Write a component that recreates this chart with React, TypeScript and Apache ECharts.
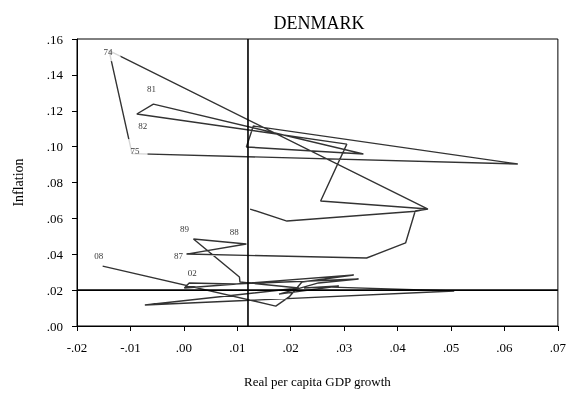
import React, { useEffect, useRef } from 'react';
import * as echarts from 'echarts';

// Path of (real per capita GDP growth, inflation) points, in drawing order
const growth = [
  0.0124, 0.0193, 0.0434, 0.0456, -0.0140, -0.0097, 0.0625, 0.0130, 0.0117, 0.0336,
  -0.0057, -0.0088, 0.0305, 0.0256, 0.0457, 0.0433, 0.0415, 0.0342, 0.0005, 0.0117,
  0.0018, 0.0104, 0.0105, 0.0215, -0.0073, 0.0506, 0.0262, 0.0225, 0.0290, 0.0178,
  0.0252, 0.0327, 0.0094, 0.0010, 0.0001, 0.0318, 0.0221, 0.0197, 0.0172, -0.0152,
];
const inflation = [
  0.0652, 0.0585, 0.0640, 0.0653, 0.1535, 0.0961, 0.0903, 0.1115, 0.0998, 0.0959,
  0.1237, 0.1182, 0.1014, 0.0697, 0.0652, 0.0641, 0.0463, 0.0379, 0.0401, 0.0457,
  0.0485, 0.0273, 0.0245, 0.0212, 0.0117, 0.0195, 0.0218, 0.0212, 0.0223, 0.0178,
  0.0240, 0.0262, 0.0234, 0.0240, 0.0212, 0.0284, 0.0245, 0.0162, 0.0111, 0.0334,
];
const pointLabels = [
  '', '', '', '', '74', '75', '', '', '', '',
  '81', '82', '', '', '', '', '', '', '87', '88',
  '89', '', '', '', '', '', '', '', '', '',
  '', '', '', '02', '', '', '', '', '', '08',
];
// label placement relative to its point (pixels)
const labelOffsets: Record<string, [number, number]> = {
  '74': [-1, 1], '75': [3, -3], '81': [-2, -15], '82': [6, 12], '87': [-8, 2],
  '88': [-12, -12], '89': [-9, -10], '02': [3, -10], '08': [-4, -10],
};
// labels drawn on an opaque box that hides the line beneath them
const maskPadding: Record<string, number[]> = {
  '74': [4, 8, 6, 8],
  '75': [7, 8, 7, 8],
};

const xTicks = { min: -0.02, max: 0.07, step: 0.01 };
const yTicks = { min: 0, max: 0.16, step: 0.02 };
const refX = 0.012;
const refY = 0.02;

export default function App() {
  const ref = useRef<HTMLDivElement>(null);
  useEffect(() => {
    const chart = echarts.init(ref.current!, undefined, { renderer: 'svg' });
    const font = '"Liberation Serif", "Times New Roman", serif';
    const fmt = (v: number) => {
      const s = Math.abs(v).toFixed(2).replace(/^0/, '');
      return v < -1e-9 ? '-' + s : s;
    };
    const lineData = growth.map((g, i) => [g, inflation[i]]);
    const labelData: any[] = [];
    pointLabels.forEach((t, i) => {
      if (!t) return;
      const pad = maskPadding[t];
      labelData.push({
        value: [growth[i], inflation[i]],
        name: t,
        label: {
          offset: labelOffsets[t],
          backgroundColor: pad ? '#fff' : 'transparent',
          padding: pad || 0,
        },
      });
    });
    chart.setOption({
      animation: false,
      title: {
        text: 'DENMARK',
        left: 314,
        top: 9,
        textAlign: 'center',
        textStyle: { fontFamily: font, fontSize: 18, fontWeight: 'normal', color: '#000' },
      },
      grid: { left: 77, top: 39, right: 9, bottom: 70, show: true, borderColor: '#000', borderWidth: 1 },
      xAxis: {
        type: 'value',
        min: xTicks.min,
        max: xTicks.max,
        interval: xTicks.step,
        name: 'Real per capita GDP growth',
        nameLocation: 'middle',
        nameGap: 49,
        nameTextStyle: { fontFamily: font, fontSize: 13, color: '#000' },
        axisLine: { onZero: false, lineStyle: { color: '#000', width: 1 } },
        axisTick: { show: true, length: 5, lineStyle: { color: '#000' } },
        axisLabel: { formatter: fmt, margin: 15, color: '#000', fontFamily: font, fontSize: 13 },
        splitLine: { show: false },
      },
      yAxis: {
        type: 'value',
        min: yTicks.min,
        max: yTicks.max,
        interval: yTicks.step,
        name: 'Inflation',
        nameLocation: 'middle',
        nameGap: 52,
        nameTextStyle: { fontFamily: font, fontSize: 14, color: '#000' },
        axisLine: { onZero: false, lineStyle: { color: '#000', width: 1 } },
        axisTick: { show: true, length: 5, lineStyle: { color: '#000' } },
        axisLabel: { formatter: fmt, margin: 14, color: '#000', fontFamily: font, fontSize: 13 },
        splitLine: { show: false },
      },
      series: [
        {
          type: 'line',
          data: lineData,
          showSymbol: false,
          symbol: 'none',
          z: 2,
          lineStyle: { color: '#333', width: 1.4 },
        },
        {
          type: 'line',
          data: [[refX, yTicks.min], [refX, yTicks.max]],
          showSymbol: false,
          symbol: 'none',
          z: 5,
          lineStyle: { color: '#000', width: 1.6 },
        },
        {
          type: 'line',
          data: [[xTicks.min, refY], [xTicks.max, refY]],
          showSymbol: false,
          symbol: 'none',
          z: 5,
          lineStyle: { color: '#000', width: 1.6 },
        },
        {
          type: 'scatter',
          data: labelData,
          symbolSize: 1,
          itemStyle: { color: 'rgba(0,0,0,0)' },
          z: 6,
          label: {
            show: true,
            position: 'inside',
            formatter: (p: any) => p.name,
            fontFamily: font,
            fontSize: 9,
            color: '#000',
          },
        },
      ],
    });
    return () => chart.dispose();
  }, []);
  return <div ref={ref} style={{ position: 'fixed', left: 0, top: 0, width: 569, height: 396 }} />;
}
